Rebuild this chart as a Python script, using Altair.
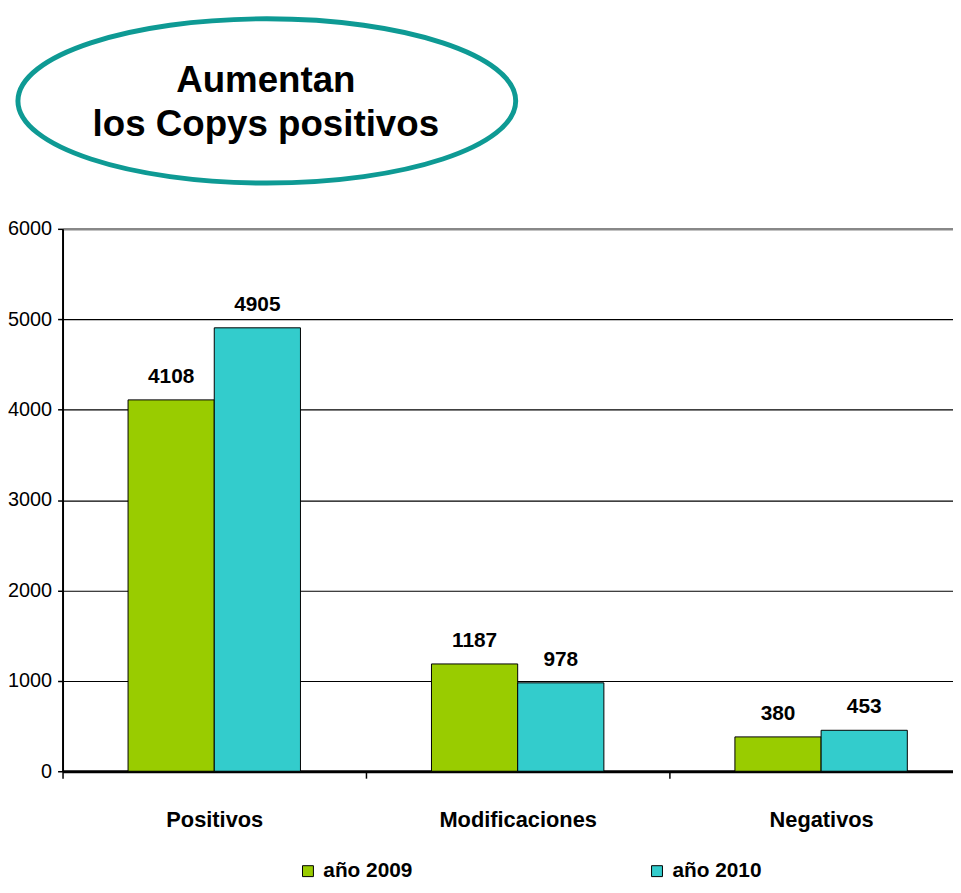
import altair as alt
import pandas as pd

categories = ["Positivos", "Modificaciones", "Negativos"]
series = ["año 2009", "año 2010"]
values_2009 = [4108, 1187, 380]
values_2010 = [4905, 978, 453]
y_ticks = [0, 1000, 2000, 3000, 4000, 5000, 6000]
colors = ["#99CC00", "#33CCCC"]
headline = "Aumentan\nlos Copys positivos"

rows = []
for c, a, b in zip(categories, values_2009, values_2010):
    rows.append({"cat": c, "serie": series[0], "val": a})
    rows.append({"cat": c, "serie": series[1], "val": b})
df = pd.DataFrame(rows)

SANS = "Liberation Sans, Arial, sans-serif"

x_enc = alt.X(
    "cat:N",
    sort=categories,
    title="",
    scale=alt.Scale(range=[0, 918], paddingInner=0, paddingOuter=0),
    axis=alt.Axis(
        tickBand="extent",
        ticks=True,
        tickSize=7,
        tickColor="black",
        tickWidth=1.5,
        domainColor="black",
        domainWidth=3,
        labelFont=SANS,
        labelFontSize=22,
        labelFontWeight="bold",
        labelColor="black",
        labelPadding=32,
        labelAngle=0,
        labelLimit=400,
        grid=False,
    ),
)
xoff_enc = alt.XOffset(
    "serie:N", sort=series, scale=alt.Scale(paddingInner=0, paddingOuter=0.76)
)
y_enc = alt.Y(
    "val:Q",
    title="",
    scale=alt.Scale(domain=[0, 6000], nice=False),
    axis=alt.Axis(
        values=y_ticks,
        format="d",
        labelFont=SANS,
        labelFontSize=20,
        labelColor="black",
        labelPadding=6,
        tickSize=5,
        tickColor="black",
        tickWidth=1.5,
        domainColor="black",
        domainWidth=2,
        grid=True,
        gridColor={"condition": {"test": "datum.value === 6000", "value": "#888888"}, "value": "black"},
        gridWidth={"condition": {"test": "datum.value === 6000", "value": 2.5}, "value": 1.2},
        gridOpacity=1,
    ),
)

bars = (
    alt.Chart(df)
    .mark_bar(stroke="black", strokeWidth=1)
    .encode(
        x=x_enc,
        xOffset=xoff_enc,
        y=y_enc,
        color=alt.Color(
            "serie:N",
            sort=series,
            scale=alt.Scale(domain=series, range=colors),
            legend=alt.Legend(
                title=None,
                orient="none",
                legendX=237,
                legendY=637,
                direction="horizontal",
                symbolType="square",
                symbolSize=121,
                symbolStrokeColor="black",
                symbolStrokeWidth=1,
                labelFont=SANS,
                labelFontSize=21,
                labelFontWeight="bold",
                labelColor="black",
                labelOffset=5,
                columnPadding=236,
                padding=0,
            ),
        ),
    )
)

labels = (
    alt.Chart(df)
    .mark_text(
        font=SANS,
        fontSize=21,
        fontWeight="bold",
        color="black",
        baseline="alphabetic",
        dy=-17,
    )
    .encode(x=x_enc, xOffset=xoff_enc, y=y_enc, text=alt.Text("val:Q", format="d"))
)

ellipse = (
    alt.Chart(pd.DataFrame({"k": [1]}))
    .mark_point(
        shape="M-1,0A1,0.33,0,1,1,1,0A1,0.33,0,1,1,-1,0Z",
        filled=False,
        stroke="#0E9A94",
        strokeWidth=5,
        opacity=1,
        size=252000,
    )
    .encode(x=alt.value(206), y=alt.value(-129))
)

title_text = (
    alt.Chart(pd.DataFrame({"t": [headline]}))
    .mark_text(
        font=SANS,
        fontSize=37,
        fontWeight="bold",
        color="black",
        align="center",
        baseline="alphabetic",
        lineBreak="\n",
        lineHeight=44,
    )
    .encode(x=alt.value(205), y=alt.value(-138), text="t:N")
)

chart = (
    alt.layer(ellipse, title_text, bars, labels)
    .properties(
        width=898,
        height=547,
        autosize=alt.AutoSizeParams(type="none"),
        padding={"left": 55, "top": 219, "right": 0, "bottom": 110},
    )
    .configure_view(stroke=None)
)

chart.save("out.html", embed_options={"renderer": "svg", "actions": False})
